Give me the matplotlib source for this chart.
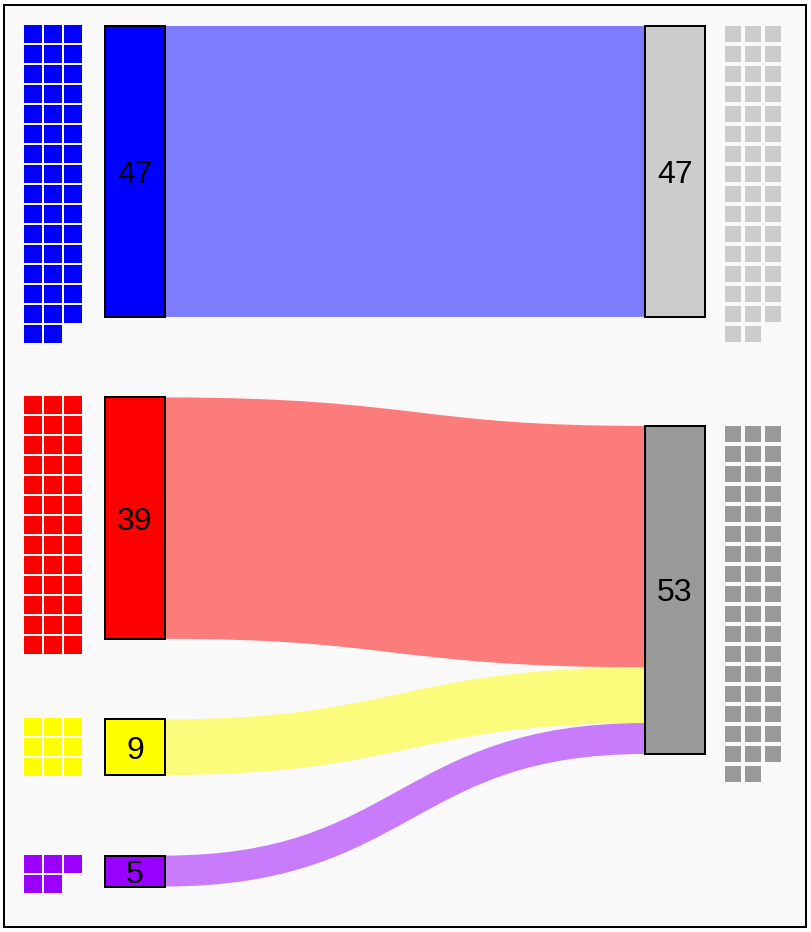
import matplotlib
matplotlib.use("Agg")
import matplotlib.pyplot as plt
from matplotlib.patches import Rectangle, PathPatch
from matplotlib.path import Path

# data: left nodes, right nodes, links (source, target, value)
left_values = [47, 39, 9, 5]
left_colors = ["#0000ff", "#ff0000", "#ffff00", "#9900ff"]
right_values = [47, 53]
right_colors = ["#cccccc", "#999999"]
links = [(0, 0, 47), (1, 1, 39), (2, 1, 9), (3, 1, 5)]

# layout (pixel units, figure is 812x932 at dpi 100)
PT = 0.72            # points per pixel
K = 6.19             # pixels per unit
TOP = 26
LEFT_GAP = 80.5
RIGHT_GAP = 109
NODE_W = 60
LEFT_X = 105
RIGHT_X = 645


def tops(values, gap):
    out, y = [], TOP
    for v in values:
        out.append(y)
        y += v * K + gap
    return out


left_tops = tops(left_values, LEFT_GAP)
right_tops = tops(right_values, RIGHT_GAP)

fig = plt.figure(figsize=(8.12, 9.32), dpi=100, facecolor="white")
ax = fig.add_axes([0, 0, 1, 1])
ax.set_xlim(0, 812)
ax.set_ylim(932, 0)
ax.axis("off")

# frame
ax.add_patch(Rectangle((4, 5), 802, 922, facecolor="#f9f9f9",
                       edgecolor="black", lw=2 * PT, zorder=0))

# links
src_off = [0.0] * len(left_values)
tgt_off = [0.0] * len(right_values)
for s, t, v in links:
    h = v * K
    y0 = left_tops[s] + src_off[s] + h / 2
    y1 = right_tops[t] + tgt_off[t] + h / 2
    src_off[s] += h
    tgt_off[t] += h
    x0, x1 = LEFT_X + NODE_W, RIGHT_X
    xm = (x0 + x1) / 2
    path = Path([(x0, y0), (xm, y0), (xm, y1), (x1, y1)],
                [Path.MOVETO, Path.CURVE4, Path.CURVE4, Path.CURVE4])
    ax.add_patch(PathPatch(path, fill=False, edgecolor=left_colors[s],
                           alpha=0.5, lw=h * PT, capstyle="butt", zorder=1))


def node(x, top, v, color):
    h = v * K
    ax.add_patch(Rectangle((x, top), NODE_W, h, facecolor=color,
                           edgecolor="black", lw=2 * PT, zorder=2))
    ax.text(x + NODE_W / 2, top + h / 2, str(v), ha="center",
            va="center_baseline", fontsize=23,
            family=["Liberation Sans", "DejaVu Sans"], zorder=3)


def waffle(x, top, v, color, size):
    for i in range(v):
        r, c = divmod(i, 3)
        ax.add_patch(Rectangle((x + c * 20, top + r * 20), size, size,
                               facecolor=color, edgecolor="none", zorder=2))


for v, c, t in zip(left_values, left_colors, left_tops):
    node(LEFT_X, t, v, c)
    waffle(24, t - 1, v, c, 18)

for v, c, t in zip(right_values, right_colors, right_tops):
    node(RIGHT_X, t, v, c)
    waffle(725, t, v, c, 16)

fig.savefig("out.png", dpi=100, facecolor="white")
